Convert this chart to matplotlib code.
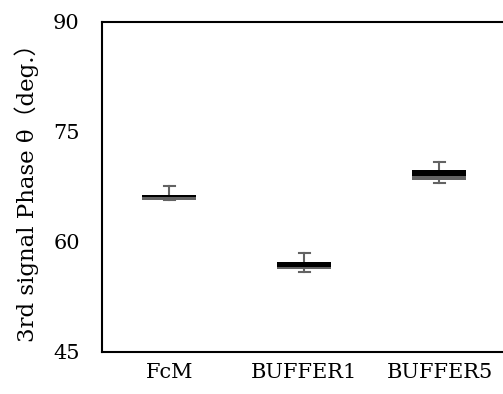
import numpy as np
import matplotlib.pyplot as plt
from matplotlib.patches import Rectangle

# values
categories = ['FcM', 'BUFFER1', 'BUFFER5']
q1 = [65.73, 56.32, 68.45]
median = [66.20, 56.55, 69.04]
q3 = [66.41, 57.23, 69.82]
whisker_low = [65.75, 55.87, 68.00]
whisker_high = [67.68, 58.46, 70.87]
yticks = [45, 60, 75, 90]

font = ['DejaVu Serif', 'Noto Sans CJK JP']
plt.rcParams['font.family'] = font

fig = plt.figure(figsize=(5.03, 3.94), dpi=100)
ax = fig.add_axes([0.2028, 0.1066, 0.805, 0.8376])

x = np.arange(len(categories))
box_w = 0.4
cap_w = 0.08
gray = '#636363'

for i in x:
    # whiskers
    ax.plot([i, i], [whisker_low[i], whisker_high[i]], color=gray, lw=1.5, zorder=1)
    ax.plot([i - cap_w / 2, i + cap_w / 2], [whisker_high[i]] * 2, color=gray, lw=1.5, zorder=1)
    ax.plot([i - cap_w / 2, i + cap_w / 2], [whisker_low[i]] * 2, color=gray, lw=1.5, zorder=1)
    # lower part of box (gray), upper part (black)
    ax.add_patch(Rectangle((i - box_w / 2, q1[i]), box_w, median[i] - q1[i],
                           facecolor=gray, edgecolor='none', zorder=2))
    ax.add_patch(Rectangle((i - box_w / 2, median[i]), box_w, q3[i] - median[i],
                           facecolor='black', edgecolor='none', zorder=2))

ax.set_xlim(-0.5, 2.5)
ax.set_ylim(45, 90)
ax.set_yticks(yticks)
ax.set_xticks(x)
ax.set_xticklabels(categories)
ax.tick_params(axis='y', length=0, pad=16, labelsize=15)
ax.tick_params(axis='x', length=0, pad=8, labelsize=15)
for s in ax.spines.values():
    s.set_linewidth(1.5)
    s.set_color('black')
ax.set_ylabel('3rd signal Phase θ（deg.）', fontsize=16.5, labelpad=10)

fig.savefig('out.png', dpi=100)
